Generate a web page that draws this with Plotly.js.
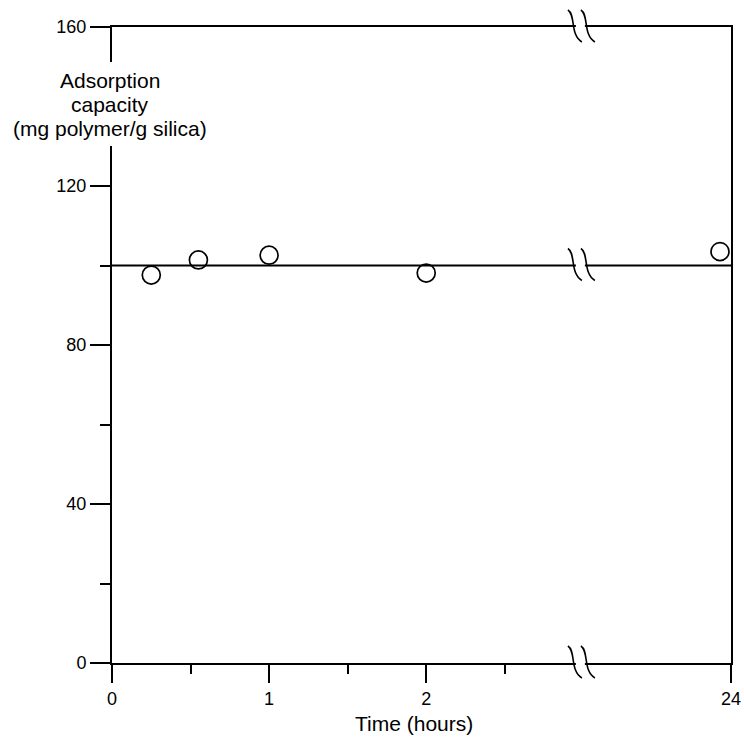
<!DOCTYPE html>
<html>
<head>
<meta charset="utf-8">
<script src="https://cdn.plot.ly/plotly-3.0.1.min.js"></script>
<style>html,body{margin:0;padding:0;background:#fff;}#chart{width:744px;height:737px;}</style>
</head>
<body>
<div id="chart"></div>
<script>
// ---- data ----
const timeHours = [0.25, 0.55, 1, 2, 23.93];
const adsorption = [97.6, 101.4, 102.6, 98.1, 103.5];
const meanCapacity = 100;
const xTickHours = [0, 1, 2, 24];
const xTickText = ['0', '1', '2', '24'];
const xMinorHours = [0.5, 1.5, 2.5];
const yTickVals = [0, 40, 80, 120, 160];
const yMinorVals = [20, 60, 100];
const yTitleLines = ['Adsorption', 'capacity', '(mg polymer/g silica)'];
const xTitle = 'Time (hours)';

// broken time axis: 1 display unit = 1 hour on both sides of the break
const X24 = 3.94;          // display position of the 24 h end
const BREAK_X = 2.94;      // display position of the axis break
const Y_MAX = 160;
function xPos(t) { return t <= 2.75 ? t : t - 24 + X24; }

const FONT = 'Liberation Sans, Arial, Helvetica, sans-serif';

const traces = [
  {
    x: [0, X24], y: [meanCapacity, meanCapacity],
    mode: 'lines', line: {color: '#000', width: 1.8},
    hoverinfo: 'skip', showlegend: false
  },
  {
    x: timeHours.map(xPos), y: adsorption,
    mode: 'markers',
    marker: {symbol: 'circle-open', size: 18, color: '#000', line: {width: 1.7, color: '#000'}},
    cliponaxis: false, showlegend: false
  }
];

const L = 112, R = 13, T = 27, B = 74, W = 744, H = 737;
const pw = W - L - R, ph = H - T - B;
function px2paperX(px) { return (px - L) / pw; }
function px2paperY(py) { return (H - B - py) / ph; }

// break marks (two wavy strokes, with the line blanked between them), paper-referenced so they are not clipped
function breakShapes(yFrac) {
  const s = [];
  const xa = BREAK_X / X24;
  s.push({type: 'rect', xref: 'paper', yref: 'paper', xsizemode: 'pixel', ysizemode: 'pixel',
    xanchor: xa, yanchor: yFrac, x0: 2, x1: 11, y0: -3, y1: 3,
    fillcolor: '#fff', line: {width: 0}, layer: 'above'});
  [0, 13].forEach(function (dx) {
    s.push({type: 'path', xref: 'paper', yref: 'paper', xsizemode: 'pixel', ysizemode: 'pixel',
      xanchor: xa, yanchor: yFrac,
      path: 'M ' + (dx - 6) + ',17 C ' + (dx + 2) + ',12 ' + (dx - 4) + ',-8 ' + (dx + 8) + ',-15',
      line: {color: '#000', width: 1.6}, layer: 'above'});
  });
  return s;
}

const shapes = [].concat(breakShapes(1), breakShapes(meanCapacity / Y_MAX), breakShapes(0));
// gap in the left axis line behind the y title
shapes.push({type: 'rect', xref: 'paper', yref: 'paper', xsizemode: 'pixel',
  xanchor: 0, x0: -4, x1: 4, y0: px2paperY(146), y1: px2paperY(62),
  fillcolor: '#fff', line: {width: 0}, layer: 'above'});

const yTitleY = [81, 105, 129];
const annotations = yTitleLines.map(function (txt, i) {
  return {text: txt, xref: 'paper', yref: 'paper', x: px2paperX(110), y: px2paperY(yTitleY[i]),
    xanchor: 'center', yanchor: 'middle', showarrow: false, borderpad: 0,
    font: {family: FONT, size: 21, color: '#000'}};
});
annotations.push({text: xTitle, xref: 'paper', yref: 'paper', x: px2paperX(414), y: px2paperY(723),
  xanchor: 'center', yanchor: 'middle', showarrow: false,
  font: {family: FONT, size: 21, color: '#000'}});

const layout = {
  width: W, height: H,
  margin: {l: L, r: R, t: T, b: B, pad: 0},
  paper_bgcolor: '#fff', plot_bgcolor: '#fff',
  showlegend: false,
  font: {family: FONT, size: 18, color: '#000'},
  xaxis: {
    range: [0, X24], showgrid: false, zeroline: false,
    showline: true, mirror: true, linecolor: '#000', linewidth: 2,
    ticks: 'outside', ticklen: 18, tickwidth: 2, tickcolor: '#000',
    tickmode: 'array', tickvals: xTickHours.map(xPos), ticktext: xTickText,
    tickfont: {family: FONT, size: 18, color: '#000'},
    minor: {tickmode: 'array', tickvals: xMinorHours.map(xPos), ticks: 'outside', ticklen: 9, tickwidth: 2, tickcolor: '#000', showgrid: false},
    fixedrange: true
  },
  yaxis: {
    range: [0, Y_MAX], showgrid: false, zeroline: false,
    showline: true, mirror: true, linecolor: '#000', linewidth: 2,
    ticks: 'outside', ticklen: 20, tickwidth: 2, tickcolor: '#000',
    tickmode: 'array', tickvals: yTickVals, ticktext: yTickVals.map(String),
    tickfont: {family: FONT, size: 18, color: '#000'},
    minor: {tickmode: 'array', tickvals: yMinorVals, ticks: 'outside', ticklen: 10, tickwidth: 2, tickcolor: '#000', showgrid: false},
    fixedrange: true
  },
  shapes: shapes,
  annotations: annotations
};

Plotly.newPlot('chart', traces, layout, {displayModeBar: false, staticPlot: true});
</script>
</body>
</html>
